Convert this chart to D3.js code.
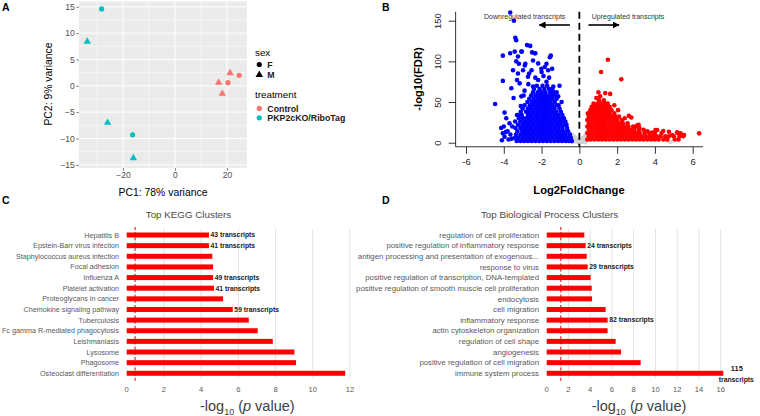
<!DOCTYPE html>
<html><head><meta charset="utf-8">
<script src="https://cdn.jsdelivr.net/npm/d3@7"></script>
<style>
body{margin:0;background:#fff}
svg{display:block}
text{font-family:"Liberation Sans",Arial,Helvetica,sans-serif}
</style>
</head><body>
<svg id="chart" width="760" height="416"></svg>
<script>
// ---------------- Panel A: PCA ----------------
const pcaPC1 = [-28.2, -33.7, -25.9, -16.3, -16.0, 20.4, 24.7, 16.8, 21.2, 18.2];
const pcaPC2 = [14.6, 8.4, -7.0, -9.3, -13.7, 0.6, 2.0, 0.6, 2.4, -1.5];
const pcaSex = ["F", "M", "M", "F", "M", "F", "F", "M", "M", "M"];
const pcaTreatment = ["PKP2cKO/RiboTag","PKP2cKO/RiboTag","PKP2cKO/RiboTag","PKP2cKO/RiboTag","PKP2cKO/RiboTag",
                      "Control","Control","Control","Control","Control"];
const pcaXTicks = [-20, 0, 20];
const pcaYTicks = [-15, -10, -5, 0, 5, 10, 15];
const sexLevels = ["F", "M"];
const treatmentLevels = ["Control", "PKP2cKO/RiboTag"];

// ---------------- Panel B: volcano ----------------
// each row: -log10(FDR) level, then the log2FC of the points drawn at that level
const downCore = [
  [2, -3.32,-3.12,-2.92,-2.72,-2.52,-2.32,-2.12,-1.92,-1.72,-1.52,-1.32,-1.12,-0.92,-0.72,-0.55,-0.4],
  [6, -3.4,-3.22,-3.02,-2.82,-2.62,-2.42,-2.22,-2.02,-1.82,-1.62,-1.42,-1.22,-1.02,-0.82,-0.62,-0.45],
  [10, -3.35,-3.12,-2.92,-2.72,-2.52,-2.32,-2.12,-1.92,-1.72,-1.52,-1.32,-1.12,-0.92,-0.72,-0.5],
  [14, -3.28,-3.02,-2.82,-2.62,-2.42,-2.22,-2.02,-1.82,-1.62,-1.42,-1.22,-1.02,-0.82,-0.6],
  [18, -3.38,-3.12,-2.92,-2.72,-2.52,-2.32,-2.12,-1.92,-1.72,-1.52,-1.32,-1.12,-0.9,-0.65],
  [22, -3.25,-3.02,-2.82,-2.62,-2.42,-2.22,-2.02,-1.82,-1.62,-1.42,-1.22,-1.02,-0.8,-0.68],
  [26, -3.4,-3.12,-2.92,-2.72,-2.52,-2.32,-2.12,-1.92,-1.72,-1.52,-1.32,-1.12,-0.92,-0.74],
  [30, -3.2,-2.98,-2.82,-2.62,-2.42,-2.22,-2.02,-1.82,-1.62,-1.42,-1.22,-1.02,-0.82],
  [34, -3.3,-3.05,-2.72,-2.52,-2.32,-2.12,-1.92,-1.72,-1.52,-1.32,-1.12,-0.9],
  [38, -3.1,-2.82,-2.62,-2.42,-2.22,-2.02,-1.82,-1.62,-1.42,-1.22,-0.98],
  [42, -3.0,-2.72,-2.52,-2.32,-2.12,-1.92,-1.72,-1.52,-1.32,-1.05],
  [46, -2.9,-2.62,-2.42,-2.22,-2.02,-1.82,-1.62,-1.42,-1.2,-1.1],
  [50, -2.75,-2.52,-2.32,-2.12,-1.92,-1.72,-1.52,-1.3],
  [54, -2.65,-2.42,-2.22,-2.02,-1.82,-1.62,-1.42,-1.2],
  [58, -2.55,-2.32,-2.12,-1.92,-1.72,-1.5,-1.3],
  [62, -2.45,-2.2,-2.0,-1.8,-1.55,-1.38],
  [66, -2.4,-2.1,-1.85,-1.6,-1.42],
  [70, -2.25,-1.95,-1.7]
];
const downScatter = [
  [-3.66,160],[-3.46,150],[-3.39,129],[-3.34,126],[-2.77,120],[-2.6,119],[-4.05,107],[-3.66,110],
  [-3.42,112],[-3.05,112],[-2.5,111],[-2.33,110],[-3.34,100],[-3.2,97],[-2.86,97],[-2.45,101],
  [-1.51,107],[-1.56,105],[-1.74,97],[-2.18,97.5],[-1.44,91],[-2.01,91],[-1.83,93],[-4.05,76],
  [-3.51,89],[-2.98,89],[-2.66,85],[-2.33,80],[-2.53,89],[-2.0,87],[-1.65,89],[-3.25,85],
  [-2.72,81],[-2.18,77],[-1.74,75],[-3.16,73],[-2.45,69],[-1.38,69],[-1.12,57],[-0.94,50],
  [-3.07,57],[-4.46,47.5],[-3.96,37],[-3.87,30],[-3.6,67],[-3.48,55],[-3.3,77],[-3.25,34],
  [-4.14,18],[-4.05,11.5],[-3.96,7.4],[-3.8,14],[-3.65,10],[-3.55,20],[-4.1,3],[-3.75,4],
  [-2.36,110],[-3.07,112],[-3.25,106],[-2.89,95],[-1.9,82],[-1.6,80],[-2.9,64],[-3.1,45],
  [-2.95,58],[-2.7,72],[-1.2,62],[-1.05,70],[-3.7,24],[-3.9,13],[-4.0,20],[-3.58,5]
];
const upCore = [
  [4, 0.42,0.6,0.8,1.0,1.2,1.4,1.6,1.8,2.0,2.2,2.4,2.6,2.8,3.0,3.2,3.4,3.6,3.8,4.0,4.2,4.45,4.65,5.05,5.25],
  [8, 0.5,0.7,0.9,1.1,1.3,1.5,1.7,1.9,2.1,2.3,2.5,2.7,2.9,3.1,3.3,3.5,3.7,3.9,4.1,4.3,4.55,4.75,5.0,5.3,5.5],
  [12, 0.42,0.6,0.8,1.0,1.2,1.4,1.6,1.8,2.0,2.2,2.4,2.6,2.8,3.0,3.2,3.45,3.7,4.0,4.35,5.2],
  [16, 0.5,0.7,0.9,1.1,1.3,1.5,1.7,1.9,2.1,2.3,2.5,2.7,2.9,3.15,3.4],
  [20, 0.42,0.6,0.8,1.0,1.2,1.4,1.6,1.8,2.0,2.2,2.4,2.6,2.85,3.05],
  [24, 0.5,0.7,0.9,1.1,1.3,1.5,1.7,1.9,2.1,2.3,2.55],
  [28, 0.42,0.6,0.8,1.0,1.2,1.4,1.6,1.8,2.0,2.25],
  [32, 0.5,0.7,0.9,1.1,1.3,1.5,1.7,1.9,2.1],
  [36, 0.45,0.62,0.8,1.0,1.2,1.4,1.6,1.85],
  [40, 0.58,0.75,0.9,1.1,1.3,1.5,1.7],
  [44, 0.65,0.82,1.0,1.2,1.4,1.6],
  [48, 0.75,0.95,1.15,1.35,1.5],
  [52, 1.05,1.3]
];
const upScatter = [
  [1.51,102],[1.15,87],[2.22,78],[1.01,62],[1.1,57],[1.37,61],[1.63,60],[0.9,55],[2.75,31],[2.62,33],
  [3.05,21],[3.18,18],[3.14,22],[4.03,15.5],[4.12,15.6],[4.44,14.3],[4.74,13.5],[5.18,12.7],[5.36,11.5],
  [5.54,9.4],[6.34,11.5],[4.92,9.4],[1.85,46],[2.05,40],[2.4,30],[3.6,14],[3.85,12.5]
];
const nsPoints = [
  [-0.35,1],[-0.3,4],[-0.25,7],[-0.2,2],[-0.15,5],[-0.1,1],[-0.05,3],[0,0.5],[0.05,2],[0.1,4],
  [0.15,1],[0.2,6],[0.25,3],[0.3,8],[0.35,2],[0.3,0.5],[4.83,1.2],[4.7,2.5],[-0.4,10],[0.38,11]
];
const volXTicks = [-6, -4, -2, 0, 2, 4, 6];
const volYTicks = [0, 50, 100, 150];

// ---------------- Panel C: KEGG ----------------
const keggTerms = ["Hepatitis B","Epstein-Barr virus infection","Staphylococcus aureus infection","Focal adhesion",
  "Influenza A","Platelet activation","Proteoglycans in cancer","Chemokine signaling pathway","Tuberculosis",
  "Fc gamma R-mediated phagocytosis","Leishmaniasis","Lysosome","Phagosome","Osteoclast differentiation"];
const keggValues = [4.42, 4.42, 4.6, 4.64, 4.64, 4.69, 5.18, 5.7, 6.56, 7.04, 7.85, 9.01, 9.1, 11.74];
const keggLabels = ["43 transcripts","41 transcripts","","","49 transcripts","41 transcripts","","59 transcripts","","","","","",""];
const keggTicks = [0, 2, 4, 6, 8, 10, 12];
const keggThreshold = 0.45;

// ---------------- Panel D: Biological process ----------------
const bpTerms = ["regulation of cell proliferation","positive regulation of inflammatory response",
  "antigen processing and presentation of exogenous...","response to virus",
  "positive regulation of transcription, DNA-templated","positive regulation of smooth muscle cell proliferation",
  "endocytosis","cell migration","inflammatory response","actin cytoskeleton organization",
  "regulation of cell shape","angiogenesis","positive regulation of cell migration","immune system process"];
const bpValues = [3.46, 3.58, 3.68, 3.77, 4.04, 4.14, 4.17, 5.42, 5.6, 5.6, 6.34, 6.83, 8.64, 16.24];
const bpLabels = ["","24 transcripts","","29 transcripts","","","","","82 transcripts","","","","","115 transcripts"];
const bpTicks = [0, 2, 4, 6, 8, 10, 12, 14, 16];
const bpThreshold = 1.3;

// =================================================================
const svg = d3.select("#chart");
svg.append("rect").attr("width", 760).attr("height", 416).attr("fill", "#fff");

// panel letters
[["A", 2, 11], ["B", 382, 11], ["C", 2, 204], ["D", 382, 204]].forEach(([t, x, y]) => {
  svg.append("text").attr("x", x).attr("y", y).attr("font-size", 10.5).attr("font-weight", "bold")
    .attr("fill", "#000").text(t);
});

// ---------------- Panel A ----------------
(function () {
  const x = d3.scaleLinear().domain([-36.9, 27.7]).range([79, 247]);
  const y = d3.scaleLinear().domain([-15.6, 16.0]).range([168, 1.5]);
  const g = svg.append("g");
  g.append("rect").attr("x", 79).attr("y", 1.5).attr("width", 168).attr("height", 166.5).attr("fill", "#EBEBEB");
  const xMinor = [-30, -10, 10], yMinor = [-12.5, -7.5, -2.5, 2.5, 7.5, 12.5];
  g.selectAll(".xmin").data(xMinor).enter().append("line")
    .attr("x1", d => x(d)).attr("x2", d => x(d)).attr("y1", 1.5).attr("y2", 168)
    .attr("stroke", "#fff").attr("stroke-width", 0.5);
  g.selectAll(".ymin").data(yMinor).enter().append("line")
    .attr("y1", d => y(d)).attr("y2", d => y(d)).attr("x1", 79).attr("x2", 247)
    .attr("stroke", "#fff").attr("stroke-width", 0.5);
  g.selectAll(".xmaj").data(pcaXTicks).enter().append("line")
    .attr("x1", d => x(d)).attr("x2", d => x(d)).attr("y1", 1.5).attr("y2", 168)
    .attr("stroke", "#fff").attr("stroke-width", 1);
  g.selectAll(".ymaj").data(pcaYTicks).enter().append("line")
    .attr("y1", d => y(d)).attr("y2", d => y(d)).attr("x1", 79).attr("x2", 247)
    .attr("stroke", "#fff").attr("stroke-width", 1);

  const xa = g.append("g").attr("transform", "translate(0,168)")
    .call(d3.axisBottom(x).tickValues(pcaXTicks).tickSize(2.7).tickPadding(1.5));
  const ya = g.append("g").attr("transform", "translate(79,0)")
    .call(d3.axisLeft(y).tickValues(pcaYTicks).tickSize(2.7).tickPadding(1.5));
  [xa, ya].forEach(a => {
    a.select(".domain").remove();
    a.selectAll("line").attr("stroke", "#333").attr("stroke-width", 0.6);
    a.selectAll("text").attr("fill", "#4D4D4D").attr("font-size", 8.5)
      .attr("font-family", '"Liberation Sans",Arial,sans-serif');
  });

  g.append("text").attr("x", 163).attr("y", 195.5).attr("text-anchor", "middle")
    .attr("font-size", 10.4).attr("fill", "#000").text("PC1: 78% variance");
  g.append("text").attr("transform", "translate(51.5,84) rotate(-90)").attr("text-anchor", "middle")
    .attr("font-size", 10.4).attr("fill", "#000").text("PC2: 9% variance");

  const color = d3.scaleOrdinal().domain(treatmentLevels).range(["#F8766D", "#00BFC4"]);
  const shape = s => s === "F" ? d3.symbol().type(d3.symbolCircle).size(21)() : d3.symbol().type(d3.symbolTriangle).size(24)();
  g.selectAll(".pt").data(pcaPC1.map((v, i) => i)).enter().append("path")
    .attr("d", i => shape(pcaSex[i]))
    .attr("transform", i => `translate(${x(pcaPC1[i])},${y(pcaPC2[i])})`)
    .attr("fill", i => color(pcaTreatment[i]));

  // legend
  const lg = svg.append("g");
  lg.append("text").attr("x", 255).attr("y", 55.5).attr("font-size", 9.8).attr("fill", "#000").text("sex");
  sexLevels.forEach((s, i) => {
    const cy = 64.5 + i * 10.3;
    lg.append("path").attr("d", shape(s)).attr("transform", `translate(259.3,${cy})`).attr("fill", "#000");
    lg.append("text").attr("x", 267.3).attr("y", cy + 3.3).attr("font-size", 8.8).attr("font-weight", "bold")
      .attr("fill", "#1a1a1a").text(s);
  });
  lg.append("text").attr("x", 255).attr("y", 97.7).attr("font-size", 9.8).attr("fill", "#000").text("treatment");
  treatmentLevels.forEach((s, i) => {
    const cy = 108.4 + i * 9.4;
    lg.append("circle").attr("cx", 259.3).attr("cy", cy).attr("r", 2.6).attr("fill", color(s));
    lg.append("text").attr("x", 267.3).attr("y", cy + 3.3).attr("font-size", 8.8).attr("font-weight", "bold")
      .attr("fill", "#1a1a1a").text(s);
  });
})();

// ---------------- Panel B ----------------
(function () {
  const x = d3.scaleLinear().domain([-6, 6]).range([466, 692.7]);
  const y = d3.scaleLinear().domain([0, 150]).range([142.7, 20.7]);
  const g = svg.append("g");
  const flat = rows => rows.flatMap(([lev, ...xs]) => xs.map(v => [v, lev]));
  const r = 2.3;
  g.selectAll(".ns").data(nsPoints).enter().append("circle")
    .attr("cx", d => x(d[0])).attr("cy", d => y(d[1])).attr("r", r).attr("fill", "#D3D3D3");
  g.selectAll(".dn").data(flat(downCore).concat(downScatter)).enter().append("circle")
    .attr("cx", d => x(d[0])).attr("cy", d => y(d[1])).attr("r", r).attr("fill", "#0000FF");
  g.selectAll(".up").data(flat(upCore).concat(upScatter)).enter().append("circle")
    .attr("cx", d => x(d[0])).attr("cy", d => y(d[1])).attr("r", r).attr("fill", "#FF0000");

  const left = x(-6.55), right = x(6.55), top = y(161), bottom = y(-5);
  g.append("path").attr("d", `M${left},${top}V${bottom}H${right}`).attr("fill", "none")
    .attr("stroke", "#000").attr("stroke-width", 0.8);

  const xa = g.append("g").attr("transform", `translate(0,${bottom})`)
    .call(d3.axisBottom(x).tickValues(volXTicks).tickSize(7).tickPadding(5).tickFormat(d3.format("d")));
  const ya = g.append("g").attr("transform", `translate(${left},0)`)
    .call(d3.axisLeft(y).tickValues(volYTicks).tickSize(7));
  [xa, ya].forEach(a => {
    a.select(".domain").remove();
    a.selectAll("line").attr("stroke", "#000").attr("stroke-width", 0.8);
    a.selectAll("text").attr("fill", "#222").attr("font-size", 9.3)
      .attr("font-family", '"Liberation Sans",Arial,sans-serif');
  });
  xa.selectAll("text").text(d => d < 0 ? "-" + Math.abs(d) : d);
  ya.selectAll("text").attr("transform", "rotate(-90)").attr("x", 0).attr("y", -14.7)
    .attr("dy", 0).attr("text-anchor", "middle");

  g.append("line").attr("x1", x(0)).attr("x2", x(0)).attr("y1", top).attr("y2", bottom)
    .attr("stroke", "#000").attr("stroke-width", 1.8).attr("stroke-dasharray", "7,4");

  g.append("text").attr("x", 579).attr("y", 194).attr("text-anchor", "middle").attr("font-size", 11.2)
    .attr("font-weight", "bold").attr("fill", "#000").text("Log2FoldChange");
  g.append("text").attr("transform", "translate(422,79) rotate(-90)").attr("text-anchor", "middle")
    .attr("font-size", 11.2).attr("font-weight", "bold").attr("fill", "#000").text("-log10(FDR)");

  // annotations
  const defs = svg.append("defs");
  defs.append("marker").attr("id", "ah").attr("viewBox", "0 0 10 10").attr("refX", 9).attr("refY", 5)
    .attr("markerWidth", 7).attr("markerHeight", 7).attr("markerUnits", "userSpaceOnUse").attr("orient", "auto")
    .append("path").attr("d", "M0,0L10,5L0,10Z").attr("fill", "#000");
  g.append("text").attr("x", 524.7).attr("y", 19.3).attr("text-anchor", "middle").attr("font-size", 7)
    .attr("fill", "#333").text("Downregulated transcripts");
  g.append("text").attr("x", 628).attr("y", 19.3).attr("text-anchor", "middle").attr("font-size", 7)
    .attr("fill", "#333").text("Upregulated transcripts");
  g.append("line").attr("x1", x(-0.5)).attr("x2", x(-2.12)).attr("y1", 25).attr("y2", 25)
    .attr("stroke", "#000").attr("stroke-width", 1.6).attr("marker-end", "url(#ah)");
  g.append("line").attr("x1", x(0.48)).attr("x2", x(2.1)).attr("y1", 25).attr("y2", 25)
    .attr("stroke", "#000").attr("stroke-width", 1.6).attr("marker-end", "url(#ah)");
})();

// ---------------- Panels C & D ----------------
function barPanel(cfg) {
  const g = svg.append("g");
  const x = d3.scaleLinear().domain([0, d3.max(cfg.ticks)]).range([cfg.x0, cfg.x1]);
  const y = d3.scaleBand().domain(cfg.terms).range([229.7, 378.6]).paddingInner(0.53).paddingOuter(0.265);

  g.selectAll(".grid").data(cfg.ticks.filter(t => t > 0)).enter().append("line")
    .attr("x1", d => x(d)).attr("x2", d => x(d)).attr("y1", 229).attr("y2", 378.6)
    .attr("stroke", "#D9D9D9").attr("stroke-width", 0.8);

  g.selectAll(".bar").data(cfg.terms).enter().append("rect")
    .attr("x", x(0)).attr("y", d => y(d)).attr("height", y.bandwidth())
    .attr("width", (d, i) => x(cfg.values[i]) - x(0)).attr("fill", "#FF0000");

  g.append("line").attr("x1", x(cfg.threshold)).attr("x2", x(cfg.threshold)).attr("y1", 227).attr("y2", 383)
    .attr("stroke", "#D00000").attr("stroke-width", 1).attr("stroke-dasharray", "3,2.2");

  g.selectAll(".cat").data(cfg.terms).enter().append("text")
    .attr("x", x(0) - 7.7).attr("y", d => y(d) + y.bandwidth() / 2).attr("dy", "0.35em")
    .attr("text-anchor", "end").attr("font-size", cfg.catSize).attr("fill", "#595959").text(d => d);

  cfg.terms.forEach((t, i) => {
    const lab = cfg.labels[i];
    if (!lab) return;
    const cy = y(t) + y.bandwidth() / 2;
    const ex = x(cfg.values[i]);
    if (cfg.values[i] === d3.max(cfg.values) && cfg.splitLast) {
      const parts = lab.split(" ");
      const tx = g.append("text").attr("text-anchor", "middle").attr("font-size", 6.8)
        .attr("font-weight", "bold").attr("fill", "#1a1a1a");
      tx.append("tspan").attr("x", ex + 13.5).attr("y", cy - 2.3).attr("font-size", 7.4).text(parts[0]);
      tx.append("tspan").attr("x", ex + 13).attr("y", cy + 8.6).text(parts[1]);
    } else {
      g.append("text").attr("x", ex + 1.6).attr("y", cy).attr("dy", "0.35em").attr("font-size", 6.8)
        .attr("font-weight", "bold").attr("fill", "#1a1a1a").text(lab);
    }
  });

  g.selectAll(".tick").data(cfg.ticks).enter().append("text")
    .attr("x", d => x(d)).attr("y", 391.8).attr("text-anchor", "middle").attr("font-size", 7.6)
    .attr("fill", "#595959").text(d => d);

  g.append("text").attr("x", cfg.titleX).attr("y", 217.6).attr("text-anchor", "middle")
    .attr("font-size", 9.8).attr("fill", "#4a4a4a").text(cfg.title);

  const at = g.append("text").attr("x", cfg.axisX).attr("y", 411).attr("text-anchor", "middle")
    .attr("font-size", 14.5).attr("fill", "#404040");
  at.append("tspan").text("-log");
  at.append("tspan").attr("font-size", 9).attr("dy", 3.5).text("10");
  at.append("tspan").attr("dy", -3.5).text(" (");
  at.append("tspan").attr("font-style", "italic").text("p");
  at.append("tspan").text(" value)");
}

barPanel({terms: keggTerms, values: keggValues, labels: keggLabels, ticks: keggTicks, threshold: keggThreshold,
  x0: 126.7, x1: 350, title: "Top KEGG Clusters", titleX: 188.5, axisX: 247.3, splitLast: false, catSize: 7.2});
barPanel({terms: bpTerms, values: bpValues, labels: bpLabels, ticks: bpTicks, threshold: bpThreshold,
  x0: 546.7, x1: 720.7, title: "Top Biological Process Clusters", titleX: 549.5, axisX: 639, splitLast: true, catSize: 7.8});
</script>
</body></html>
